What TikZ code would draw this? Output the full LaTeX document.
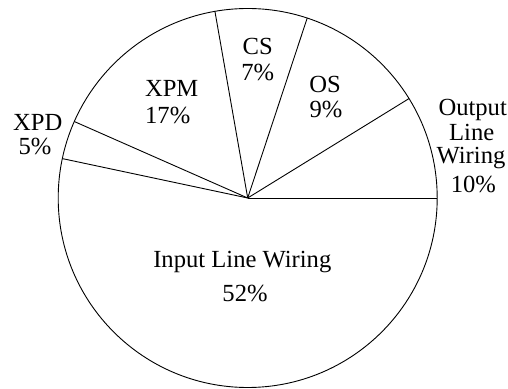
\documentclass[tikz,border=0pt]{standalone}
\usepackage{fontspec}
\setmainfont{Liberation Serif}
\begin{document}
\begin{tikzpicture}[x=1pt,y=1pt,
  wedge/.style={line width=0.9pt, black},
  lbl/.style={inner sep=0pt, anchor=base, font=\fontsize{24.6}{26}\selectfont}]
\useasboundingbox (0,0) rectangle (508,388);
\fill[white] (0,0) rectangle (508,388);
\coordinate (O) at (247.7,190);
\def\R{189.5}
\draw[wedge] (O) circle (\R);
\foreach \ang/\nm in {0/a0,31.65/a1,71.7/a2,99.96/a3,156.2/a4,168.0/a5}{
  \coordinate (\nm) at ([shift={(\ang:\R)}]O);
  \draw[wedge] (O) -- (\nm);
}
\node[lbl] (cs) at (257.7,333) {CS};
\node[lbl] (csp) at (257.7,307) {7\%};
\node[lbl] (os) at (325,295.7) {OS};
\node[lbl] (osp) at (326,270.7) {9\%};
\node[lbl] (xpm) at (171.7,291.3) {XPM};
\node[lbl] (xpmp) at (167.7,264) {17\%};
\node[lbl] (xpd) at (37.7,257.3) {XPD};
\node[lbl] (xpdp) at (35,233.7) {5\%};
\node[lbl] (out1) at (472.7,272.3) {Output};
\node[lbl] (out2) at (471.7,247.3) {Line};
\node[lbl] (out3) at (471,224.7) {Wiring};
\node[lbl] (outp) at (473.3,195.3) {10\%};
\node[lbl] (in1) at (242.3,120.3) {Input Line Wiring};
\node[lbl] (inp) at (245,86.3) {52\%};
\end{tikzpicture}
\end{document}
